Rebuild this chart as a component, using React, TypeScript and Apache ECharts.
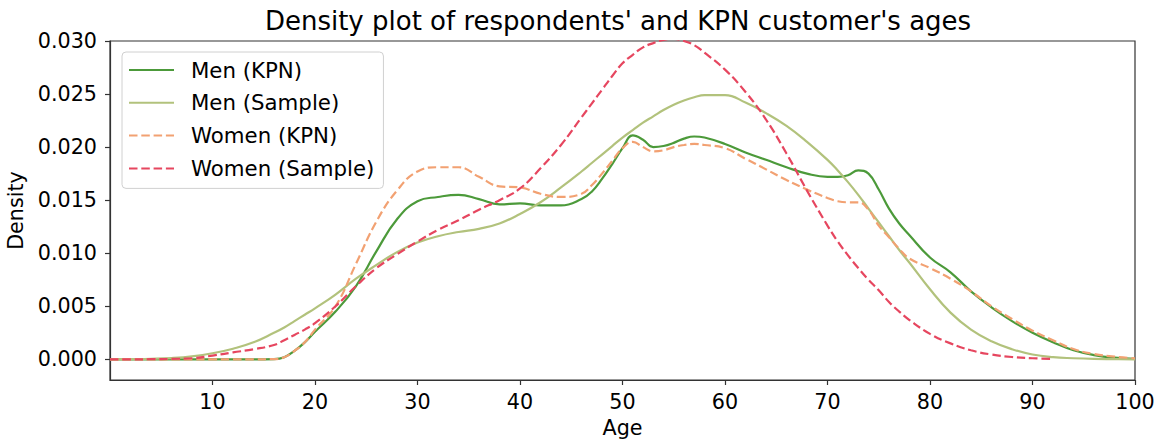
import React, { useEffect, useRef } from "react";
import * as echarts from "echarts";

const titleText = "Density plot of respondents' and KPN customer's ages";
const xName = "Age";
const yName = "Density";
const xTicks = [10, 20, 30, 40, 50, 60, 70, 80, 90, 100];
const yTicks = [0, 0.005, 0.01, 0.015, 0.02, 0.025, 0.03];

const ages = [0, 2, 4, 6, 8, 10, 12, 14, 16, 17, 18, 19, 20, 22, 24, 26, 28, 30, 32, 34, 36, 38, 40, 42, 44, 46, 47, 48, 49, 50, 51, 52, 53, 54, 55, 56, 57, 58, 60, 62, 64, 66, 68, 70, 71, 72, 73, 74, 75, 76, 77, 78, 80, 82, 84, 86, 88, 90, 92, 94, 96, 98, 100];

const menKPN = [0, 0, 0, 0, 0, 0, 0, 0, 0.00002, 0.0002, 0.0008, 0.0016, 0.0026, 0.0045, 0.0069, 0.0102, 0.0132, 0.0149, 0.0153, 0.0155, 0.0151, 0.0146, 0.0147, 0.0145, 0.0145, 0.0151, 0.0158, 0.017, 0.0184, 0.0199, 0.0211, 0.0207, 0.02, 0.0201, 0.0204, 0.0208, 0.021, 0.0209, 0.0203, 0.0195, 0.0188, 0.0181, 0.0175, 0.0172, 0.0172, 0.01735, 0.0178, 0.0175, 0.016, 0.0142, 0.0128, 0.0117, 0.0096, 0.0082, 0.0064, 0.0049, 0.0036, 0.0025, 0.0016, 0.00085, 0.0004, 0.00015, 0.00005];

const menSample = [0, 0.00002, 0.00005, 0.00012, 0.00028, 0.00057, 0.001, 0.0016, 0.0025, 0.003, 0.0036, 0.0042, 0.0048, 0.0061, 0.0076, 0.0089, 0.0101, 0.011, 0.0116, 0.012, 0.0123, 0.0128, 0.0137, 0.0148, 0.0162, 0.0177, 0.0185, 0.0193, 0.0201, 0.0209, 0.0216, 0.0223, 0.0229, 0.0235, 0.024, 0.0244, 0.0247, 0.0249, 0.0249, 0.0242, 0.0232, 0.022, 0.0205, 0.0188, 0.0178, 0.0167, 0.0155, 0.0142, 0.0129, 0.0116, 0.0103, 0.0091, 0.0066, 0.0044, 0.0028, 0.0017, 0.00095, 0.00045, 0.0002, 0.0001, 0.00004, 0.00002, 0];

const womenKPN = [0, 0, 0, 0, 0, 0, 0, 0, 0.00002, 0.0002, 0.0008, 0.0016, 0.0028, 0.005, 0.009, 0.013, 0.0159, 0.0177, 0.0181, 0.0181, 0.0172, 0.0163, 0.0162, 0.0156, 0.0153, 0.0156, 0.0164, 0.0175, 0.0187, 0.0199, 0.0205, 0.02, 0.0196, 0.0197, 0.02, 0.0202, 0.0203, 0.0202, 0.0199, 0.0189, 0.0179, 0.0169, 0.016, 0.0152, 0.0149, 0.0148, 0.0148, 0.0141, 0.0126, 0.0115, 0.0104, 0.0095, 0.0086, 0.0076, 0.0064, 0.005, 0.0038, 0.0027, 0.0018, 0.00097, 0.0005, 0.00025, 0.0001];

const womenSample = [0, 0, 0.00001, 0.00004, 0.0001, 0.00035, 0.00065, 0.00095, 0.00135, 0.0018, 0.0023, 0.0028, 0.0034, 0.005, 0.0069, 0.0086, 0.0099, 0.0111, 0.0122, 0.0131, 0.0141, 0.015, 0.0161, 0.018, 0.0202, 0.0228, 0.0241, 0.0254, 0.0267, 0.0279, 0.0287, 0.0294, 0.0298, 0.0301, 0.0302, 0.03, 0.0296, 0.0289, 0.0273, 0.0252, 0.0226, 0.0194, 0.0159, 0.0126, 0.0111, 0.0098, 0.0086, 0.0075, 0.0065, 0.0054, 0.0045, 0.0037, 0.0024, 0.0015, 0.00085, 0.00045, 0.00022, 0.0001, 0.00004, null, null, null, null];

const FONT = "DejaVu Sans";

export default function App() {
  const ref = useRef<HTMLDivElement>(null);
  useEffect(() => {
    if (!ref.current) return;
    const chart = echarts.init(ref.current, null, { renderer: "svg" });
    const mk = (name: string, vals: (number | null)[], color: string, dashed: boolean) => ({
      name,
      type: "line",
      data: ages.map((a, i) => [a, vals[i]]),
      showSymbol: false,
      symbol: "none",
      smooth: 0.45,
      clip: true,
      connectNulls: false,
      lineStyle: { color, width: 2.2, type: dashed ? [8.5, 3.8] : "solid" },
      itemStyle: { color },
    });
    chart.setOption({
      animation: false,
      backgroundColor: "#ffffff",
      textStyle: { fontFamily: FONT },
      graphic: [
        {
          type: "text",
          x: 618,
          y: 8,
          style: {
            text: titleText,
            font: `26px '${FONT}'`,
            fill: "#000",
            textAlign: "center",
            textVerticalAlign: "top",
          },
        },
      ],
      grid: {
        left: 110,
        right: 24,
        top: 41,
        bottom: 61,
        show: true,
        containLabel: false,
        outerBoundsMode: "none",
        borderColor: "#333",
        borderWidth: 1.2,
        backgroundColor: "transparent",
      },
      legend: {
        left: 122,
        top: 52,
        orient: "vertical",
        padding: [7, 9, 9, 6],
        itemWidth: 45,
        itemHeight: 14,
        itemGap: 10.8,
        itemStyle: { opacity: 0, borderWidth: 0 },
        backgroundColor: "rgba(255,255,255,0.8)",
        borderColor: "#d0d0d0",
        borderWidth: 1,
        borderRadius: 4,
        textStyle: {
          fontFamily: FONT,
          fontSize: 21.3,
          lineHeight: 22,
          color: "#000",
          padding: [0, 0, 0, 12],
        },
        data: ["Men (KPN)", "Men (Sample)", "Women (KPN)", "Women (Sample)"],
      },
      xAxis: {
        type: "value",
        min: 0,
        max: 100,
        name: xName,
        nameLocation: "middle",
        nameGap: 37,
        nameTextStyle: { fontFamily: FONT, fontSize: 20.7, color: "#000" },
        axisLine: { show: true, onZero: false, lineStyle: { color: "#333", width: 1.2 } },
        axisTick: { show: true, length: 5, customValues: xTicks, lineStyle: { color: "#333", width: 1.2 } },
        axisLabel: { customValues: xTicks, margin: 11, fontFamily: FONT, fontSize: 20.7, color: "#000" },
        splitLine: { show: false },
      },
      yAxis: {
        type: "value",
        min: -0.00195,
        max: 0.03,
        name: yName,
        nameLocation: "middle",
        nameGap: 74,
        nameTextStyle: { fontFamily: FONT, fontSize: 20.7, color: "#000" },
        axisLine: { show: true, onZero: false, lineStyle: { color: "#333", width: 1.2 } },
        axisTick: { show: true, length: 5, customValues: yTicks, lineStyle: { color: "#333", width: 1.2 } },
        axisLabel: {
          customValues: yTicks,
          margin: 13,
          fontFamily: FONT,
          fontSize: 20.7,
          color: "#000",
          formatter: (v: number) => v.toFixed(3),
        },
        splitLine: { show: false },
      },
      series: [
        mk("Men (KPN)", menKPN, "#4c9a3a", false),
        mk("Men (Sample)", menSample, "#b2c27c", false),
        mk("Women (KPN)", womenKPN, "#f2a172", true),
        mk("Women (Sample)", womenSample, "#e6465f", true),
      ],
    });
    return () => chart.dispose();
  }, []);
  return <div ref={ref} style={{ position: "fixed", left: 0, top: 0, width: 1159, height: 441 }} />;
}
